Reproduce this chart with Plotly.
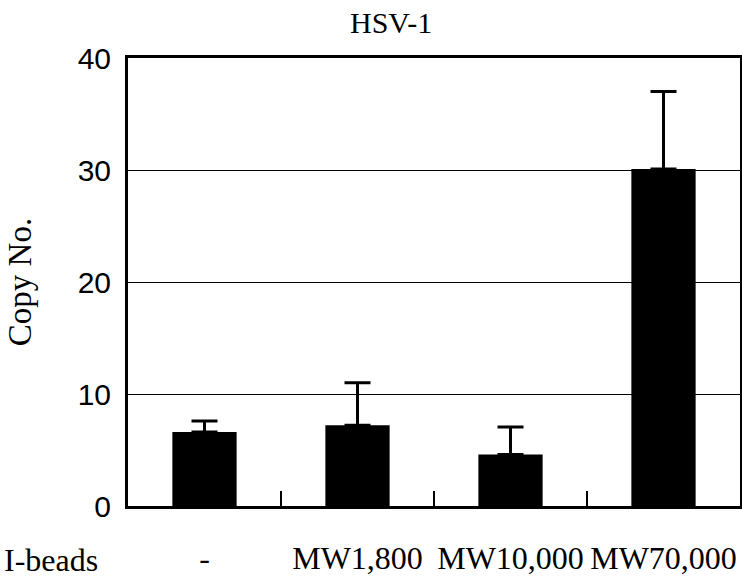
import plotly.graph_objects as go

categories = ["-", "MW1,800", "MW10,000", "MW70,000"]
copy_no = [6.6, 7.2, 4.6, 30.1]
error_plus = [1.0, 3.8, 2.45, 6.9]
y_ticks = [0, 10, 20, 30, 40]

serif = "Liberation Serif, Times New Roman, serif"
sans = "Liberation Sans, Arial, sans-serif"

fig = go.Figure()
fig.add_trace(go.Bar(
    x=categories, y=copy_no,
    width=0.42,
    marker=dict(color="black", line=dict(color="black", width=0)),
    error_y=dict(type="data", symmetric=False, array=error_plus, arrayminus=[0]*4,
                 color="black", thickness=3, width=13),
    showlegend=False,
))

fig.update_layout(
    width=742, height=578,
    margin=dict(l=128, r=2, t=58, b=72, autoexpand=False),
    paper_bgcolor="white", plot_bgcolor="white",
    bargap=0.58,
    xaxis=dict(
        type="category",
        automargin=False,
        tickangle=0,
        showline=True, linecolor="black", linewidth=3, mirror=True,
        ticks="inside", tickson="boundaries", ticklen=15, tickwidth=2, tickcolor="black",
        tickfont=dict(family=serif, size=32, color="black"),
        ticklabelstandoff=22,
        showgrid=False,
    ),
    yaxis=dict(
        range=[0, 40],
        automargin=False,
        tickvals=y_ticks,
        showline=True, linecolor="black", linewidth=3, mirror=True,
        ticks="",
        tickfont=dict(family=sans, size=30, color="black"),
        ticklabelstandoff=8,
        showgrid=True, gridcolor="black", gridwidth=1,
        zeroline=False,
        title=dict(text="Copy No.", font=dict(family=serif, size=33, color="black"), standoff=37),
    ),
    annotations=[
        dict(text="HSV-1", xref="paper", yref="paper", x=0.43, y=1.08,
             xanchor="center", yanchor="middle", showarrow=False,
             font=dict(family=serif, size=30, color="black")),
        dict(text="I-beads", xref="paper", yref="paper", x=-126/612, y=-54/448,
             xanchor="left", yanchor="middle", showarrow=False,
             font=dict(family=serif, size=32, color="black")),
    ],
)

fig.write_html("out.html", config={"displayModeBar": False},
               post_script="document.body.style.margin='0';document.body.style.overflow='hidden';")
